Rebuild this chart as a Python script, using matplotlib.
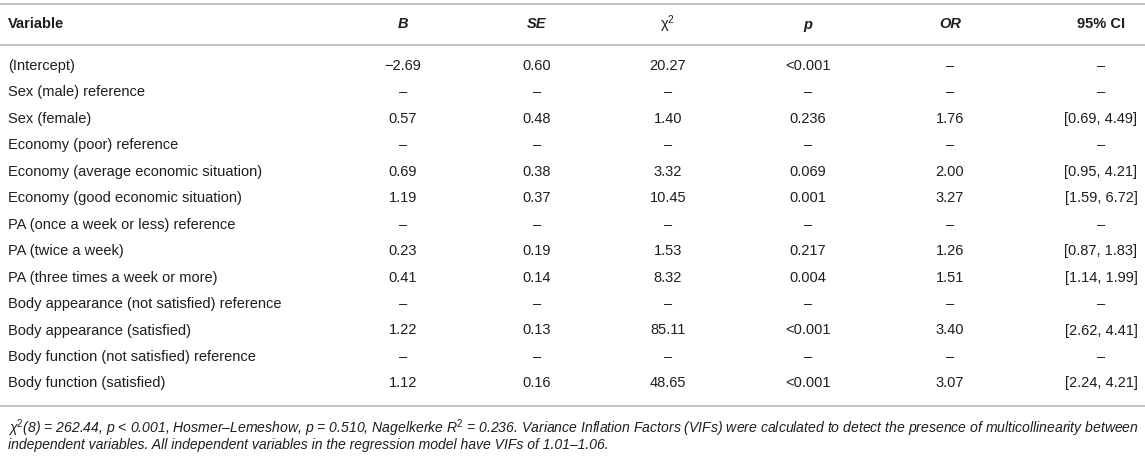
import matplotlib.pyplot as plt

# table content
variables = ['(Intercept)', 'Sex (male) reference', 'Sex (female)',
             'Economy (poor) reference', 'Economy (average economic situation)',
             'Economy (good economic situation)', 'PA (once a week or less) reference',
             'PA (twice a week)', 'PA (three times a week or more)',
             'Body appearance (not satisfied) reference', 'Body appearance (satisfied)',
             'Body function (not satisfied) reference', 'Body function (satisfied)']
B = ['\u22122.69', '\u2013', '0.57', '\u2013', '0.69', '1.19', '\u2013', '0.23', '0.41', '\u2013', '1.22', '\u2013', '1.12']
SE = ['0.60', '\u2013', '0.48', '\u2013', '0.38', '0.37', '\u2013', '0.19', '0.14', '\u2013', '0.13', '\u2013', '0.16']
chi2 = ['20.27', '\u2013', '1.40', '\u2013', '3.32', '10.45', '\u2013', '1.53', '8.32', '\u2013', '85.11', '\u2013', '48.65']
p_vals = ['<0.001', '\u2013', '0.236', '\u2013', '0.069', '0.001', '\u2013', '0.217', '0.004', '\u2013', '<0.001', '\u2013', '<0.001']
OR = ['\u2013', '\u2013', '1.76', '\u2013', '2.00', '3.27', '\u2013', '1.26', '1.51', '\u2013', '3.40', '\u2013', '3.07']
CI = ['\u2013', '\u2013', '[0.69, 4.49]', '\u2013', '[0.95, 4.21]', '[1.59, 6.72]', '\u2013',
      '[0.87, 1.83]', '[1.14, 1.99]', '\u2013', '[2.62, 4.41]', '\u2013', '[2.24, 4.21]']
headers = ['Variable', 'B', 'SE', '\u03c7$^{2}$', 'p', 'OR', '95% CI']
footnote = ['\u03c7$^{2}$(8) = 262.44, p < 0.001, Hosmer\u2013Lemeshow, p = 0.510, Nagelkerke R$^{2}$ = 0.236. '
            'Variance Inflation Factors (VIFs) were calculated to detect the presence of multicollinearity between',
            'independent variables. All independent variables in the regression model have VIFs of 1.01\u20131.06.']

plt.rcParams['font.family'] = ['Liberation Sans', 'DejaVu Sans']
plt.rcParams['mathtext.fontset'] = 'custom'
plt.rcParams['mathtext.rm'] = 'Liberation Sans'
plt.rcParams['mathtext.it'] = 'Liberation Sans:italic'
W, H = 1145, 457
fig = plt.figure(figsize=(W / 100, H / 100), dpi=100)
ax = fig.add_axes([0, 0, 1, 1])
ax.set_xlim(0, W)
ax.set_ylim(H, 0)
ax.axis('off')
renderer = fig.canvas.get_renderer()


def fit_size(s, width_px, style='normal', fs=10.0):
    # pick a font size so that string s is width_px wide
    for _ in range(3):
        t = ax.text(0, 0, s, fontsize=fs, fontstyle=style)
        w = t.get_window_extent(renderer).width
        t.remove()
        fs = fs * width_px / w
    return fs


txt = '#1e1e1e'
line_c = '#b8b8b8'
fs = fit_size('Body function (not satisfied) r', 190)
fs_note = fit_size(footnote[0], 1130, 'italic')
col_x = [8, 403, 537, 668, 808, 950, 1101]
header_style = [('bold', 'normal'), ('bold', 'italic'), ('bold', 'italic'),
                ('normal', 'normal'), ('bold', 'italic'), ('bold', 'italic'), ('bold', 'normal')]

# rules
for y in [3.5, 45, 406]:
    ax.plot([0, W], [y, y], color=line_c, lw=1.2, solid_capstyle='butt')

# header
for i, h in enumerate(headers):
    ha = 'left' if i == 0 else 'center'
    ax.text(col_x[i], 24.5, h, ha=ha, va='center', fontsize=fs, color=txt,
            fontweight=header_style[i][0], fontstyle=header_style[i][1])

# rows
y0, dy = 66, 26.45
cols = [variables, B, SE, chi2, p_vals, OR, CI]
for r in range(len(variables)):
    y = y0 + r * dy
    for c, col in enumerate(cols):
        ha = 'left' if c == 0 else 'center'
        ax.text(col_x[c], y, col[r], ha=ha, va='center', fontsize=fs, color=txt)

# footnote
for k, line in enumerate(footnote):
    ax.text(8, 428 + k * 17, line, ha='left', va='center', fontsize=fs_note,
            color=txt, fontstyle='italic')

fig.savefig('out.png', dpi=100)
